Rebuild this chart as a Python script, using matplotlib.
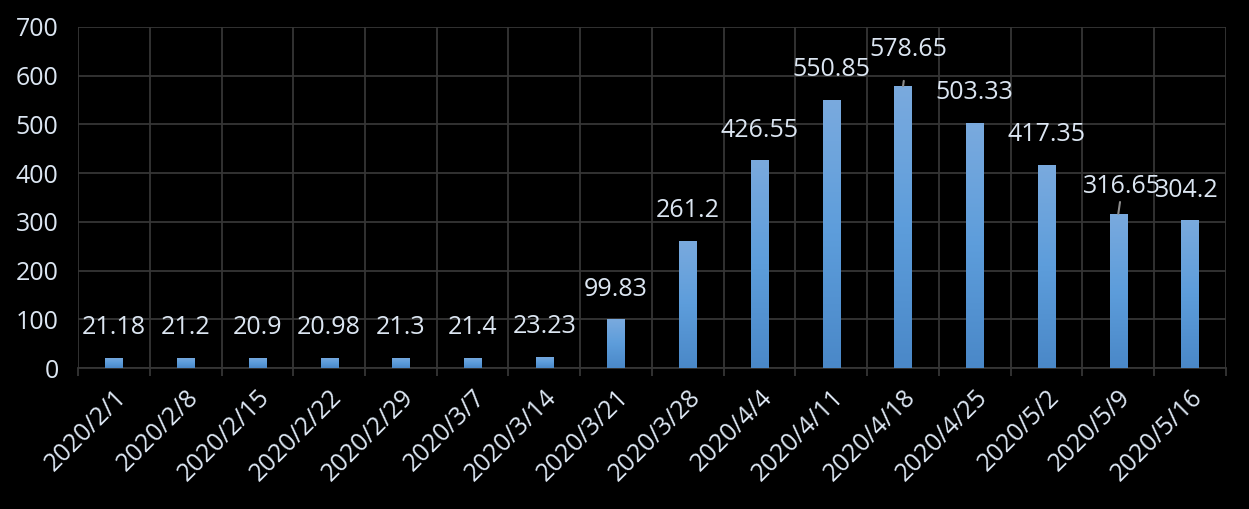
import matplotlib
matplotlib.use('Agg')
import matplotlib.pyplot as plt
import numpy as np

dates = ['2020/2/1', '2020/2/8', '2020/2/15', '2020/2/22', '2020/2/29', '2020/3/7',
         '2020/3/14', '2020/3/21', '2020/3/28', '2020/4/4', '2020/4/11', '2020/4/18',
         '2020/4/25', '2020/5/2', '2020/5/9', '2020/5/16']
values = [21.18, 21.2, 20.9, 20.98, 21.3, 21.4, 23.23, 99.83, 261.2, 426.55,
          550.85, 578.65, 503.33, 417.35, 316.65, 304.2]
labels = ['21.18', '21.2', '20.9', '20.98', '21.3', '21.4', '23.23', '99.83', '261.2',
          '426.55', '550.85', '578.65', '503.33', '417.35', '316.65', '304.2']

plt.rcParams['font.family'] = ['Open Sans', 'DejaVu Sans']
text_color = '#dce6f2'
grid_color = '#363636'

fig = plt.figure(figsize=(12.49, 5.09), dpi=100, facecolor='black')
ax = fig.add_axes([0.0625, 0.277, 0.919, 0.670])
ax.set_facecolor('black')

x = np.arange(len(values))
bars = ax.bar(x, values, width=0.24, color='#5b9bd5', zorder=3)

# vertical gradient inside each bar
grad = np.linspace(0, 1, 256).reshape(-1, 1)
cmap = matplotlib.colors.LinearSegmentedColormap.from_list('g', ['#4a88c8', '#5d9ddb', '#7aaade'])
for b in bars:
    x0, w, h = b.get_x(), b.get_width(), b.get_height()
    im = ax.imshow(grad, extent=(x0, x0 + w, 0, h), origin='lower', aspect='auto',
                   cmap=cmap, zorder=4)
    im.set_clip_path(b)

ax.set_xlim(-0.5, len(values) - 0.5)
ax.set_ylim(0, 700)
ax.set_yticks(range(0, 701, 100))
ax.set_xticks(x)
ax.set_xticks(np.arange(-0.5, len(values), 1), minor=True)
ax.set_xticklabels(dates, rotation=45, ha='right', va='top', rotation_mode='anchor')

ax.grid(axis='y', color=grid_color, linewidth=1.3, zorder=0)
ax.grid(axis='x', which='minor', color=grid_color, linewidth=1.3, zorder=0)
for s in ['top', 'right', 'left']:
    ax.spines[s].set_visible(False)
ax.spines['bottom'].set_color(grid_color)
ax.spines['bottom'].set_linewidth(1.3)

ax.tick_params(axis='x', which='major', length=0, pad=12, labelsize=18, labelcolor=text_color)
ax.tick_params(axis='x', which='minor', length=6, width=1.3, color=grid_color)
ax.tick_params(axis='y', length=0, pad=14, labelsize=18, labelcolor=text_color)

for i, (v, lab) in enumerate(zip(values, labels)):
    dx, dy = 0, 30
    arrow = None
    if lab == '578.65':
        dx, dy = 5, 37
        arrow = dict(arrowstyle='-', color='#8c8c8c', lw=1.5, shrinkA=12, shrinkB=0)
    elif lab == '316.65':
        dx, dy = 4, 27
        arrow = dict(arrowstyle='-', color='#8c8c8c', lw=1.5, shrinkA=11, shrinkB=0)
    elif lab == '304.2':
        dx, dy = -3, 29
    ax.annotate(lab, xy=(i, v), xytext=(dx, dy), textcoords='offset pixels',
                ha='center', va='center', fontsize=18, color=text_color,
                arrowprops=arrow, zorder=5)

fig.savefig('out.png', dpi=100, facecolor='black')
